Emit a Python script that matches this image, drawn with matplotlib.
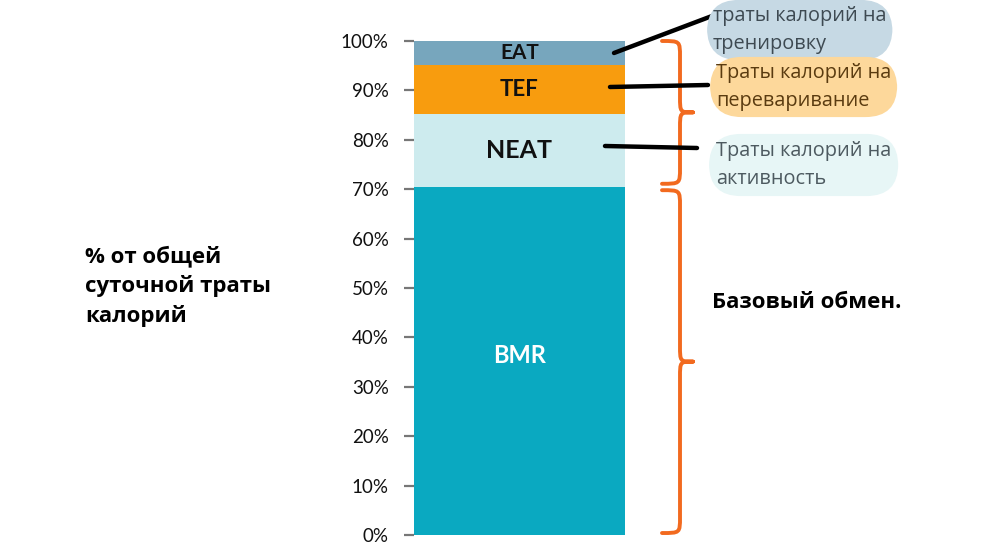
import numpy as np
import matplotlib.pyplot as plt
from matplotlib.path import Path
from matplotlib.patches import PathPatch
from matplotlib.transforms import blended_transform_factory

# segments of the daily energy expenditure, bottom to top (%)
labels = ['BMR', 'NEAT', 'TEF', 'EAT']
values = [70.5, 14.8, 9.8, 4.9]
colors = ['#0aa9c1', '#cdebee', '#f89c0e', '#77a6bd']
label_colors = ['white', '#111111', '#111111', '#111111']
label_sizes = [17, 18, 16, 15]
yticks = np.arange(0, 101, 10)

fig = plt.figure(figsize=(10.04, 5.59), dpi=100)
ax = fig.add_axes([414 / 1004, 1 - 535 / 559, 211 / 1004, 494 / 559])

bottom = 0
mids = []
for lab, v, c in zip(labels, values, colors):
    ax.bar(0, v, bottom=bottom, width=1, color=c, edgecolor='none')
    mids.append(bottom + v / 2)
    bottom += v
for lab, m, c, s in zip(labels, mids, label_colors, label_sizes):
    off = 1 if lab == 'BMR' else 0
    ax.text(0, m + off, lab, ha='center', va='center', color=c, fontsize=s,
            family='Lato', fontweight='bold')

ax.set_xlim(-0.5, 0.5)
ax.set_ylim(0, 100)
ax.set_xticks([])
ax.set_yticks(yticks)
ax.set_yticklabels(['%d%%' % t for t in yticks], family='Lato', fontsize=13.5, color='#111111')
ax.tick_params(axis='y', length=7.2, width=1.6, color='#777777', pad=11)
for s in ax.spines.values():
    s.set_visible(False)

# overlay in pixel coordinates for the annotations
ov = fig.add_axes([0, 0, 1, 1])
ov.set_xlim(0, 1004)
ov.set_ylim(559, 0)
ov.axis('off')
ov.patch.set_alpha(0)

trans = blended_transform_factory(ov.transData, ax.transData)


def brace(yt, yb, xl=662, xs=680, xt=693, r=3.2):
    ym = (yt + yb) / 2
    verts = [(xl, yt), (xs, yt), (xs, yt), (xs, yt - r),
             (xs, ym + r),
             (xs, ym), (xs, ym), (xt, ym),
             (xs, ym), (xs, ym), (xs, ym - r),
             (xs, yb + r),
             (xs, yb), (xs, yb), (xl, yb)]
    codes = [Path.MOVETO] + [Path.CURVE4] * 3 + [Path.LINETO] + [Path.CURVE4] * 6 + \
            [Path.LINETO] + [Path.CURVE4] * 3
    p = PathPatch(Path(verts, codes), transform=trans, fill=False, ec='#f26a1f',
                  lw=2.8, capstyle='round', joinstyle='round', clip_on=False)
    ov.add_patch(p)


bmr = values[0]
brace(100, bmr + 0.6)
brace(bmr - 0.7, 0.4)

# connector lines
ov.plot([614, 712], [53, 16], color='black', lw=3.2, solid_capstyle='round')
ov.plot([610, 708], [87, 85], color='black', lw=3.2, solid_capstyle='round')
ov.plot([605, 697], [146, 148], color='black', lw=3.2, solid_capstyle='round')

bub = dict(family='Open Sans', fontsize=14.3, ha='left', va='center', linespacing=1.55)
ov.text(713, 30, 'траты калорий на\nтренировку', color='#3e4a52',
        bbox=dict(boxstyle='round,pad=0.3,rounding_size=1.6', fc='#c6d9e4', ec='none'), **bub)
ov.text(716, 87, 'Траты калорий на\nпереваривание', color='#5a3b10',
        bbox=dict(boxstyle='round,pad=0.3,rounding_size=1.6', fc='#fdd89b', ec='none'), **bub)
ov.text(716, 165, 'Траты калорий на\nактивность', color='#4d5a60',
        bbox=dict(boxstyle='round,pad=0.35,rounding_size=1.6', fc='#e7f6f6', ec='none'), **bub)

ov.text(712, 303, 'Базовый обмен.', family='Open Sans', fontweight='bold', fontsize=16,
        ha='left', va='center', color='black')
ov.text(85, 286, '% от общей\nсуточной траты\nкалорий', family='Open Sans', fontweight='bold',
        fontsize=16, ha='left', va='center', color='black', linespacing=1.45)

plt.savefig('out.png', dpi=100)
